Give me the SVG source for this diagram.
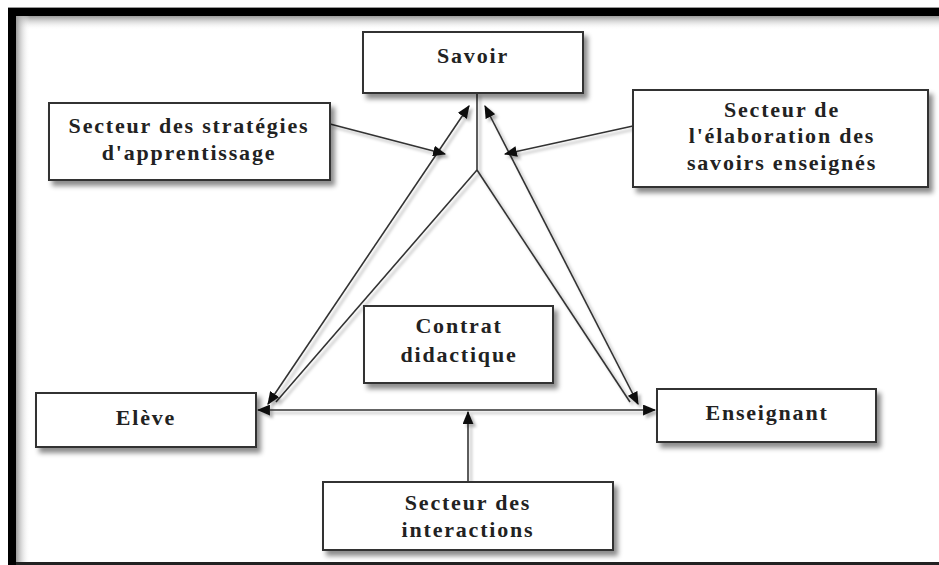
<svg xmlns="http://www.w3.org/2000/svg" width="939" height="565" viewBox="0 0 939 565">
<defs>
<style>
.box{fill:#fff;stroke:#333;stroke-width:2;filter:url(#sh)}
.t{font-family:'Liberation Serif','DejaVu Serif',serif;font-weight:bold;font-size:22px;letter-spacing:1.8px;fill:#222;text-anchor:middle}
.ln{fill:none;stroke:#333;stroke-width:1.6;filter:url(#lsh)}
</style>
<filter id="sh" x="-10%" y="-10%" width="130%" height="140%">
<feDropShadow dx="4" dy="5" stdDeviation="2.5" flood-color="#000" flood-opacity="0.45"/>
</filter>
<filter id="lsh" filterUnits="userSpaceOnUse" x="0" y="0" width="939" height="565">
<feDropShadow dx="3" dy="3" stdDeviation="1.5" flood-color="#000" flood-opacity="0.3"/>
</filter>
<marker id="ah" viewBox="0 0 12 10" refX="11" refY="5" markerWidth="13" markerHeight="11" markerUnits="userSpaceOnUse" orient="auto-start-reverse">
<path d="M0,0 L12,5 L0,10 Z" fill="#111"/>
</marker>
<linearGradient id="gl" x1="0" y1="0" x2="1" y2="0">
<stop offset="0" stop-color="#9a9a9a"/>
<stop offset="1" stop-color="#fff" stop-opacity="0"/>
</linearGradient>
<linearGradient id="gt" x1="0" y1="0" x2="0" y2="1">
<stop offset="0" stop-color="#9a9a9a"/>
<stop offset="1" stop-color="#fff" stop-opacity="0"/>
</linearGradient>
</defs>
<rect width="939" height="565" fill="#fff"/>
<!-- frame -->
<rect x="16" y="16" width="923" height="14" fill="url(#gt)"/>
<rect x="16" y="16" width="14" height="549" fill="url(#gl)"/>
<line x1="8" y1="7.5" x2="939" y2="7.5" stroke="#999" stroke-width="1"/>
<rect x="8" y="8" width="931" height="8" fill="#000"/>
<rect x="8" y="8" width="8" height="557" fill="#000"/>
<rect x="16" y="562" width="923" height="3" fill="#222"/>

<g id="connectors">
<line class="ln" x1="477" y1="93" x2="477" y2="170"/>
<line class="ln" x1="477" y1="170" x2="276" y2="402"/>
<line class="ln" x1="477" y1="170" x2="630" y2="402"/>
<line class="ln" x1="469" y1="106" x2="268" y2="404" marker-start="url(#ah)" marker-end="url(#ah)"/>
<line class="ln" x1="485" y1="106" x2="638" y2="404" marker-start="url(#ah)" marker-end="url(#ah)"/>
<line class="ln" x1="258" y1="410" x2="655" y2="410" marker-start="url(#ah)" marker-end="url(#ah)"/>
<line class="ln" x1="468" y1="482" x2="468" y2="412" marker-end="url(#ah)"/>
<line class="ln" x1="330" y1="124" x2="445" y2="154" marker-end="url(#ah)"/>
<line class="ln" x1="633" y1="126" x2="505" y2="154" marker-end="url(#ah)"/>
</g>

<g id="savoir">
<rect class="box" x="363" y="32" width="220" height="61"/>
<text class="t" x="473" y="63">Savoir</text>
</g>
<g id="strategies">
<rect class="box" x="49" y="103" width="281" height="77"/>
<text class="t" x="189" y="133">Secteur des stratégies</text>
<text class="t" x="189" y="160">d'apprentissage</text>
</g>
<g id="elaboration">
<rect class="box" x="633" y="90" width="295" height="97"/>
<text class="t" x="782" y="117">Secteur de</text>
<text class="t" x="782" y="143">l'élaboration des</text>
<text class="t" x="782" y="170">savoirs enseignés</text>
</g>
<g id="contrat">
<rect class="box" x="364" y="306" width="189" height="77"/>
<text class="t" x="459" y="333">Contrat</text>
<text class="t" x="459" y="362">didactique</text>
</g>
<g id="eleve">
<rect class="box" x="36" y="393" width="220" height="54"/>
<text class="t" x="146" y="425">Elève</text>
</g>
<g id="enseignant">
<rect class="box" x="657" y="389" width="219" height="53"/>
<text class="t" x="767" y="420">Enseignant</text>
</g>
<g id="interactions">
<rect class="box" x="323" y="482" width="290" height="68"/>
<text class="t" x="468" y="510">Secteur des</text>
<text class="t" x="468" y="537">interactions</text>
</g>
</svg>
